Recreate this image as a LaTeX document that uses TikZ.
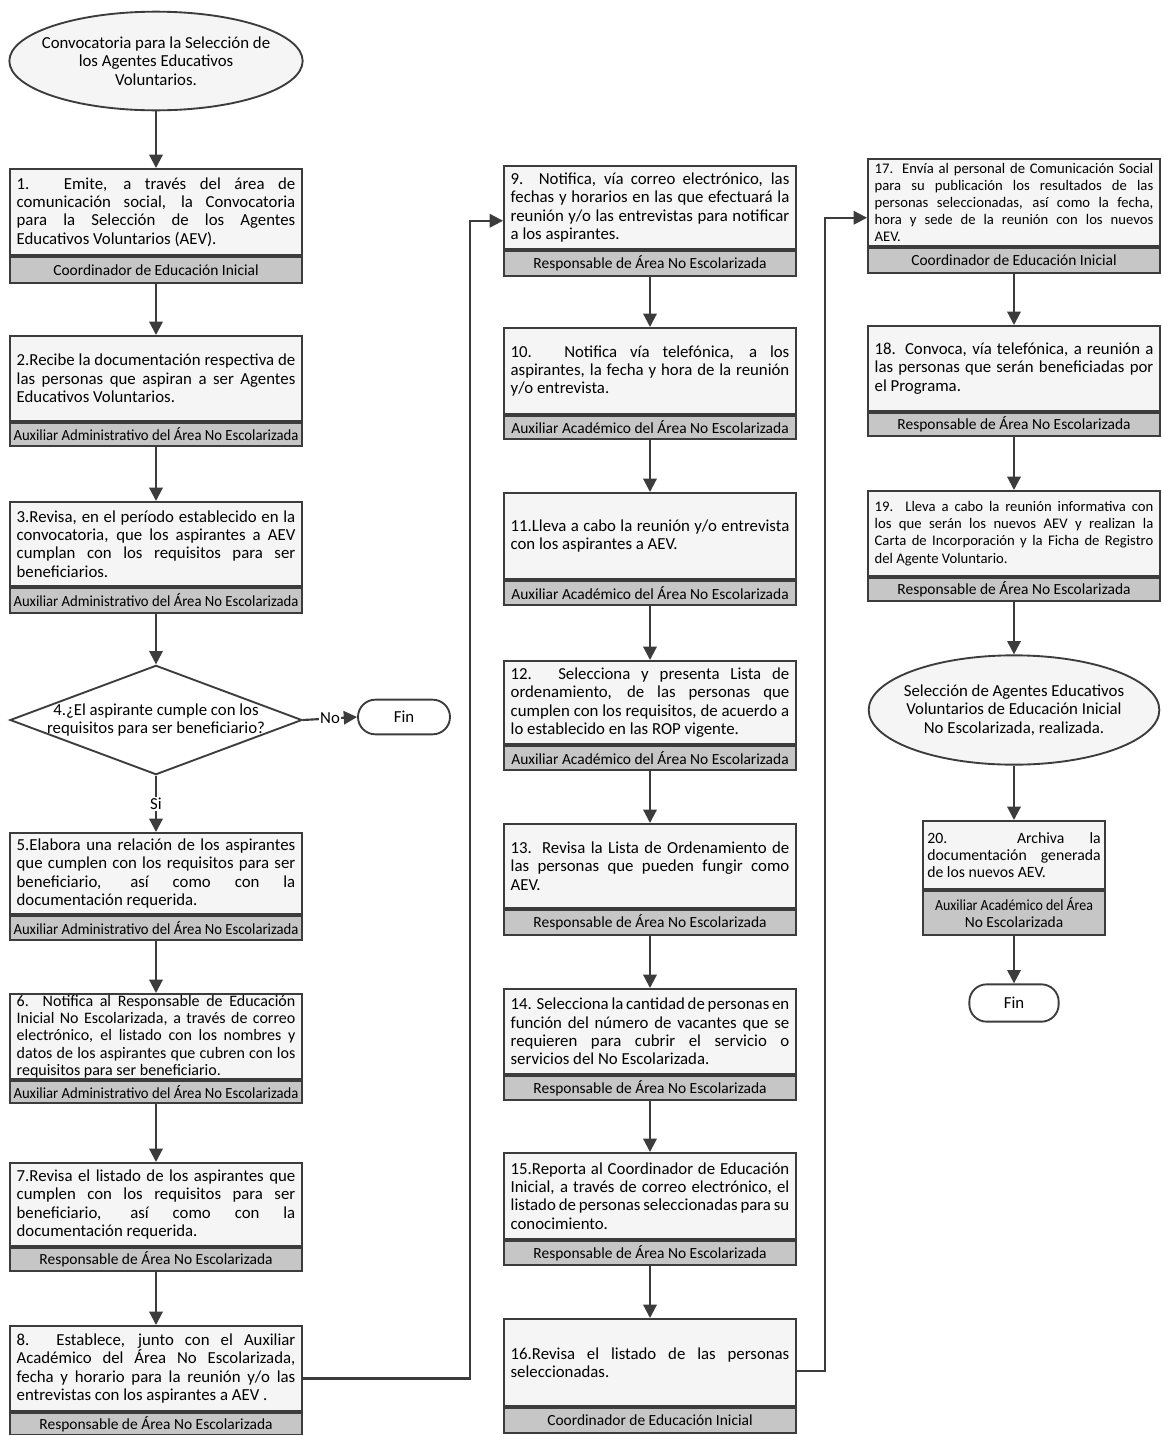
\documentclass[tikz,border=0pt]{standalone}
\usepackage{graphicx}
\usepackage{fontspec}
\setmainfont{Carlito}
\usetikzlibrary{shapes.geometric,arrows.meta}
\definecolor{linec}{HTML}{3C3C3C}
\definecolor{bodyc}{HTML}{F5F5F5}
\definecolor{footc}{HTML}{C6C6C6}
\newcommand\mainsize{\fontsize{12.6pt}{13.8pt}\selectfont}
\newcommand\smallsz{\fontsize{12pt}{13pt}\selectfont}
\newcommand\tinysz{\fontsize{11pt}{12.9pt}\selectfont}
\newcommand\footsz{\fontsize{11.6pt}{12.6pt}\selectfont}
\newcommand\AAdm{\scalebox{0.95}[1]{Auxiliar Administrativo del Área No Escolarizada}}
\newcommand\AAca{Auxiliar Académico del Área No Escolarizada}
\newcommand\RANE{Responsable de Área No Escolarizada}
\newcommand\CEI{Coordinador de Educación Inicial}
% #1 extra body options, #2 name, #3 x, #4 top, #5 footer top, #6 bottom, #7 text, #8 footer
\newcommand\procbox[8][]{%
  \node[body,#1,minimum height={(#5-#4)*0.75pt}] (s#2) at (#3,#4) {#7};
  \node[foot,minimum height={(#6-#5)*0.75pt}] (f#2) at (s#2.south) {#8};
}
\begin{document}
\begin{tikzpicture}[x=0.75pt,y=-0.75pt,
  body/.style={draw=linec, line width=1.4pt, fill=bodyc, minimum width=219pt,
    text width=209pt, align=justify, inner sep=0pt, anchor=north, font=\mainsize},
  foot/.style={draw=linec, line width=1.4pt, fill=footc, minimum width=219pt,
    inner sep=0pt, anchor=north, font=\footsz},
  oval/.style={draw=linec, line width=1.4pt, fill=bodyc, ellipse, inner xsep=-12pt,
    inner ysep=0pt, align=center, font=\mainsize},
  term/.style={draw=linec, line width=1.4pt, fill=white, rounded corners=13pt,
    inner sep=0pt, font=\mainsize},
  arr/.style={draw=linec, line width=1.6pt, -{Triangle[length=10pt,width=10pt]}},
  lbl/.style={fill=white, inner sep=1pt, font=\mainsize}]
\useasboundingbox[fill=white] (0,0) rectangle (1162,1435);

% ---------- column 1 ----------
\node[oval, minimum width=220pt, minimum height=74pt] (start) at (156,61)
  {Convocatoria para la Selección de\\los Agentes Educativos\\Voluntarios.};

\procbox{1}{156}{168}{254}{280}
  {1. Emite, a través del área de\linebreak comunicación social, la Convocatoria\linebreak para la Selección de los Agentes\linebreak Educativos Voluntarios (AEV).}{\CEI}
\procbox{2}{156}{335}{420}{443}
  {2.Recibe la documentación respectiva de\linebreak las personas que aspiran a ser Agentes\linebreak Educativos Voluntarios.}{\AAdm}
\procbox{3}{156}{501}{585}{610}
  {3.Revisa, en el período establecido en la\linebreak convocatoria, que los aspirantes a AEV\linebreak cumplan con los requisitos para ser\linebreak beneficiarios.}{\AAdm}

\node[draw=linec, line width=1.4pt, fill=white, diamond, aspect=2.65, inner sep=0pt,
  minimum width=219pt, minimum height=82pt] (d4) at (156,720) {};
\node[align=center, font=\mainsize, inner sep=0pt] (d4t) at (d4.center)
  {4.¿El aspirante cumple con los\\requisitos para ser beneficiario?};
\node[term, minimum width=69pt, minimum height=26pt] (fin1) at (404,717) {Fin};

\procbox{5}{156}{832}{913}{937}
  {5.Elabora una relación de los aspirantes\linebreak que cumplen con los requisitos para ser\linebreak beneficiario, así como con la\linebreak documentación requerida.}{\AAdm}
\procbox[font=\smallsz]{6}{156}{993}{1078}{1100}
  {6. Notifica al Responsable de Educación\linebreak Inicial No Escolarizada, a través de correo\linebreak electrónico, el listado con los nombres y\linebreak datos de los aspirantes que cubren con los\linebreak requisitos para ser beneficiario.}{\AAdm}
\procbox{7}{156}{1162}{1245}{1268}
  {7.Revisa el listado de los aspirantes que\linebreak cumplen con los requisitos para ser\linebreak beneficiario, así como con la\linebreak documentación requerida.}{\RANE}
\procbox{8}{156}{1325}{1410}{1432}
  {8. Establece, junto con el Auxiliar\linebreak Académico del Área No Escolarizada,\linebreak fecha y horario para la reunión y/o las\linebreak entrevistas con los aspirantes a AEV .}{\RANE}

% ---------- column 2 ----------
\procbox{9}{650}{165}{248}{273}
  {9. Notifica, vía correo electrónico, las\linebreak fechas y horarios en las que efectuará la\linebreak reunión y/o las entrevistas para notificar\linebreak a los aspirantes.}{\RANE}
\procbox{10}{650}{327}{413}{436}
  {10. Notifica vía telefónica, a los\linebreak aspirantes, la fecha y hora de la reunión\linebreak y/o entrevista.}{\AAca}
\procbox{11}{650}{492}{578}{602}
  {11.Lleva a cabo la reunión y/o entrevista\linebreak con los aspirantes a AEV.}{\AAca}
\procbox{12}{650}{660}{743}{767}
  {12. Selecciona y presenta Lista de\linebreak ordenamiento, de las personas que\linebreak cumplen con los requisitos, de acuerdo a\linebreak lo establecido en las ROP vigente.}{\AAca}
\procbox{13}{650}{823}{907}{932}
  {13. Revisa la Lista de Ordenamiento de\linebreak las personas que pueden fungir como\linebreak AEV.}{\RANE}
\procbox{14}{650}{988}{1073}{1097}
  {14. Selecciona la cantidad de personas en\linebreak función del número de vacantes que se\linebreak requieren para cubrir el servicio o\linebreak servicios del No Escolarizada.}{\RANE}
\procbox{15}{650}{1152}{1238}{1262}
  {15.Reporta al Coordinador de Educación\linebreak Inicial, a través de correo electrónico, el\linebreak listado de personas seleccionadas para su\linebreak conocimiento.}{\RANE}
\procbox{16}{650}{1318}{1405}{1430}
  {16.Revisa el listado de las personas\linebreak seleccionadas.}{\CEI}

% ---------- column 3 ----------
\procbox[font=\tinysz]{17}{1014}{158}{245}{270}
  {17. Envía al personal de Comunicación Social\linebreak para su publicación los resultados de las\linebreak personas seleccionadas, así como la fecha,\linebreak hora y sede de la reunión con los nuevos\linebreak AEV.}{\CEI}
\procbox{18}{1014}{325}{410}{433}
  {18. Convoca, vía telefónica, a reunión a\linebreak las personas que serán beneficiadas por\linebreak el Programa.}{\RANE}
\procbox[font=\tinysz]{19}{1014}{490}{575}{598}
  {19. Lleva a cabo la reunión informativa con\linebreak los que serán los nuevos AEV y realizan la\linebreak Carta de Incorporación y la Ficha de Registro\linebreak del Agente Voluntario.}{\RANE}

\node[oval, minimum width=218pt, minimum height=82pt] (end) at (1014,710)
  {Selección de Agentes Educativos\\Voluntarios de Educación Inicial\\No Escolarizada, realizada.};

\node[body, minimum width=136.5pt, text width=130pt, minimum height=51pt,
  font=\fontsize{11.8pt}{13pt}\selectfont] (s20) at (1014,820)
  {20. Archiva la\linebreak documentación generada\linebreak de los nuevos AEV.};
\node[foot, minimum width=136.5pt, minimum height=33pt, align=center] (f20) at (s20.south)
  {\scalebox{0.9}[1]{Auxiliar Académico del Área}\\No Escolarizada};
\node[term, minimum width=67pt, minimum height=28pt] (fin2) at (1014,1003) {Fin};

% ---------- connectors ----------
\coordinate (j1) at (470,700);
\coordinate (j2) at (825,700);

\draw[arr] (start.south) -- (s1.north);
\draw[arr] (f1.south) -- (s2.north);
\draw[arr] (f2.south) -- (s3.north);
\draw[arr] (f3.south) -- (d4.north);
\draw[arr] (d4.east) -- node[lbl]{No} (fin1.west);
\draw[arr] (d4.south) -- node[lbl]{Si} (s5.north);
\draw[arr] (f5.south) -- (s6.north);
\draw[arr] (f6.south) -- (s7.north);
\draw[arr] (f7.south) -- (s8.north);
\draw[arr] ([yshift=-7.5pt]s8.east) -| (j1) |- ([yshift=-10pt]s9.west);

\draw[arr] (f9.south) -- (s10.north);
\draw[arr] (f10.south) -- (s11.north);
\draw[arr] (f11.south) -- (s12.north);
\draw[arr] (f12.south) -- (s13.north);
\draw[arr] (f13.south) -- (s14.north);
\draw[arr] (f14.south) -- (s15.north);
\draw[arr] (f15.south) -- (s16.north);
\draw[arr] ([yshift=-6.4pt]s16.east) -| (j2) |- ([yshift=-11.5pt]s17.west);

\draw[arr] (f17.south) -- (s18.north);
\draw[arr] (f18.south) -- (s19.north);
\draw[arr] (f19.south) -- (end.north);
\draw[arr] (end.south) -- (s20.north);
\draw[arr] (f20.south) -- (fin2.north);
\end{tikzpicture}
\end{document}
